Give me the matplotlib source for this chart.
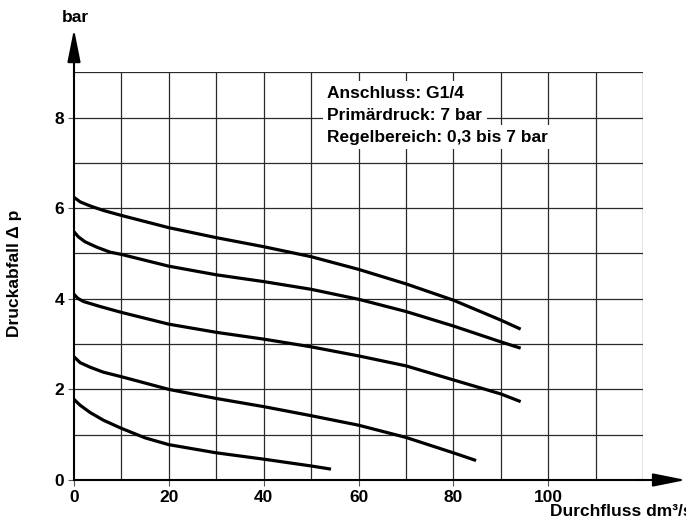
import matplotlib.pyplot as plt

plt.rcParams['font.family'] = ['Liberation Sans', 'DejaVu Sans']
plt.rcParams['font.weight'] = 'bold'

# Durchfluss (dm3/s) und Druckabfall (bar)
x1 = [0, 1.3, 3.4, 6.2, 10, 20, 30, 40, 50, 60, 70, 80, 90, 94.2]
y1 = [6.24, 6.14, 6.05, 5.95, 5.84, 5.57, 5.35, 5.15, 4.93, 4.65, 4.33, 3.97, 3.53, 3.33]

x2 = [0, 0.9, 2.3, 4.8, 7.6, 10, 20, 30, 40, 50, 60, 70, 80, 90, 94.2]
y2 = [5.48, 5.37, 5.26, 5.14, 5.03, 4.98, 4.72, 4.53, 4.38, 4.21, 3.99, 3.72, 3.40, 3.05, 2.91]

x3 = [0, 0.8, 2.0, 5.5, 10, 20, 30, 40, 50, 60, 70, 80, 90, 94.2]
y3 = [4.10, 4.01, 3.94, 3.83, 3.70, 3.44, 3.26, 3.11, 2.94, 2.74, 2.52, 2.21, 1.90, 1.73]

x4 = [0, 1.3, 3.4, 6.2, 10, 20, 30, 40, 50, 60, 70, 80, 84.8]
y4 = [2.72, 2.59, 2.49, 2.38, 2.28, 2.00, 1.80, 1.62, 1.42, 1.21, 0.94, 0.60, 0.43]

x5 = [0, 1.3, 3.4, 6.2, 10, 15, 20, 30, 40, 50, 54.2]
y5 = [1.78, 1.65, 1.49, 1.32, 1.14, 0.93, 0.78, 0.60, 0.46, 0.31, 0.24]

info = ['Anschluss: G1/4', 'Primärdruck: 7 bar', 'Regelbereich: 0,3 bis 7 bar']

fig = plt.figure(figsize=(6.86, 5.25), dpi=100)
ax = fig.add_axes([74/686, 45/525, 569/686, 407.7/525])

ax.set_xlim(0, 120)
ax.set_ylim(0, 9)

# Raster
for gx in range(10, 121, 10):
    ax.axvline(gx, color='#2a2a2a', lw=0.9, zorder=1)
for gy in range(1, 10):
    ax.axhline(gy, color='#2a2a2a', lw=0.9, zorder=1)

for xs, ys in [(x1, y1), (x2, y2), (x3, y3), (x4, y4), (x5, y5)]:
    ax.plot(xs, ys, color='black', lw=2.3, solid_capstyle='butt',
            solid_joinstyle='round', zorder=3)

ax.set_xticks(range(0, 101, 20))
ax.set_yticks(range(0, 9, 2))
ax.tick_params(length=4, width=0.8, color='#555555', pad=3, labelsize=12.5)
for lab in ax.get_xticklabels() + ax.get_yticklabels():
    lab.set_fontweight('bold')

for s in ['top', 'right']:
    ax.spines[s].set_visible(False)
for s in ['left', 'bottom']:
    ax.spines[s].set_linewidth(1.5)

# Pfeile an den Achsen
arrow = dict(arrowstyle='-|>,head_length=1.0,head_width=0.2',
             lw=1.5, color='black', mutation_scale=20, shrinkA=0, shrinkB=0)
ax.annotate('', xy=(0, 1.106), xytext=(0, 0.99), xycoords='axes fraction',
            arrowprops=arrow, annotation_clip=False)
ax.annotate('', xy=(1.0756, 0), xytext=(0.99, 0), xycoords='axes fraction',
            arrowprops=arrow, annotation_clip=False)

fig.text(75/686, 1 - 17/525, 'bar', ha='center', va='center', fontsize=12.5, fontweight='bold')
fig.text(15/686, 1 - 273/525, 'Druckabfall \u0394 p', rotation=90, ha='center', va='center',
         fontsize=12.5, fontweight='bold')
fig.text(550/686, 1 - 512/525, 'Durchfluss dm\u00b3/s', ha='left', va='center',
         fontsize=12.5, fontweight='bold')

for i, line in enumerate(info):
    ax.text(53.4, 8.44 - i * 0.485, line, ha='left', va='baseline', fontsize=12.5,
            fontweight='bold', zorder=4,
            bbox=dict(boxstyle='square,pad=0.25', fc='white', ec='none'))

fig.savefig('out.png', dpi=100)
